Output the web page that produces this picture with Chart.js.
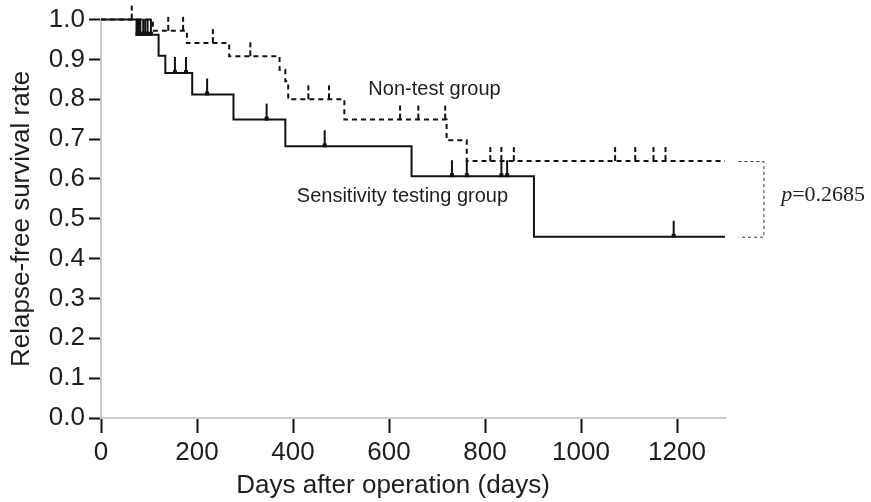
<!DOCTYPE html>
<html><head><meta charset="utf-8">
<script src="https://cdn.jsdelivr.net/npm/chart.js@4.4.1/dist/chart.umd.min.js"></script>
<style>html,body{margin:0;padding:0;background:#fff;}#wrap{width:871px;height:502px;}</style>
</head><body><div id="wrap"><canvas id="c" width="871" height="502"></canvas></div>
<script>
// ---- data ----
const sensTimes  = [0, 74, 120, 134, 190, 276, 384, 647, 902, 1300];
const sensSurv   = [1.0, 0.962, 0.909, 0.866, 0.812, 0.749, 0.682, 0.607, 0.455, 0.455];
const sensCensor = [76, 79, 82, 88, 92, 97, 104, 154, 177, 221, 345, 466, 731, 762, 834, 846, 1193];

const nonTimes   = [0, 108, 179, 267, 372, 384, 390, 507, 720, 762, 1300];
const nonSurv    = [1.0, 0.972, 0.941, 0.908, 0.874, 0.845, 0.800, 0.749, 0.697, 0.645, 0.645];
const nonCensor  = [64, 140, 171, 233, 311, 432, 475, 623, 661, 717, 811, 834, 860, 1071, 1113, 1151, 1176];

const xTickValues = [0, 200, 400, 600, 800, 1000, 1200];
const yTickValues = [0, 0.1, 0.2, 0.3, 0.4, 0.5, 0.6, 0.7, 0.8, 0.9, 1.0];

const seriesNames = ['Sensitivity testing group', 'Non-test group'];
const xTitle = 'Days after operation (days)';
const yTitle = 'Relapse-free survival rate';
const pValueText = '0.2685';

// ---- helpers ----
function stepValue(times, surv, t) {
  let v = surv[0];
  for (let i = 0; i < times.length; i++) { if (times[i] <= t) v = surv[i]; }
  return v;
}
function makeMark(dashed) {
  const c = document.createElement('canvas');
  const h = 17;
  c.width = 6; c.height = h * 2;
  const g = c.getContext('2d');
  g.fillStyle = '#111';
  if (dashed) {
    g.fillRect(2, h - 14, 2, 5);
    g.fillRect(2, h - 6, 2, 6);
  } else {
    g.fillRect(2, 1, 2, h);
    g.fillRect(1, h - 3, 4, 4);
  }
  return c;
}
const FONT = "'Liberation Sans', Arial, Helvetica, sans-serif";
const TXT = '#1e1e1e';

const annot = {
  id: 'annot',
  afterDatasetsDraw(chart) {
    const {ctx, scales: {x, y}} = chart;
    ctx.save();
    ctx.fillStyle = TXT;
    ctx.textBaseline = 'alphabetic';
    ctx.textAlign = 'left';
    ctx.font = '20px ' + FONT;
    ctx.fillText(seriesNames[1], x.getPixelForValue(557), y.getPixelForValue(0.81));
    ctx.fillText(seriesNames[0], x.getPixelForValue(408), y.getPixelForValue(0.541));
    // bracket
    const bx0 = x.getPixelForValue(1328), bx1 = x.getPixelForValue(1380);
    const yTop = y.getPixelForValue(nonSurv[nonSurv.length - 1]);
    const yBot = y.getPixelForValue(sensSurv[sensSurv.length - 1]);
    ctx.strokeStyle = '#333';
    ctx.lineWidth = 1;
    ctx.setLineDash([3, 3]);
    ctx.beginPath();
    ctx.moveTo(bx0, yTop + 0.5); ctx.lineTo(bx1 + 0.5, yTop + 0.5);
    ctx.lineTo(bx1 + 0.5, yBot + 0.5); ctx.lineTo(bx0, yBot + 0.5);
    ctx.stroke();
    ctx.setLineDash([]);
    // p value
    const px = x.getPixelForValue(1417), py = y.getPixelForValue(0.545);
    ctx.font = "italic 22px 'Liberation Serif', 'Times New Roman', serif";
    ctx.fillText('p', px, py);
    const w = ctx.measureText('p').width;
    ctx.font = "22px 'Liberation Serif', 'Times New Roman', serif";
    ctx.fillText('=' + pValueText, px + w, py);
    // x title
    ctx.font = '26px ' + FONT;
    ctx.textAlign = 'center';
    ctx.fillText(xTitle, 393, 493);
    ctx.restore();
  }
};

const ctx = document.getElementById('c').getContext('2d');
new Chart(ctx, {
  type: 'line',
  data: {
    datasets: [
      {
        label: seriesNames[0],
        data: sensTimes.map((t, i) => ({x: t, y: sensSurv[i]})),
        stepped: true, borderColor: '#111', borderWidth: 2, pointRadius: 0, fill: false, clip: false
      },
      {
        label: seriesNames[1],
        data: nonTimes.map((t, i) => ({x: t, y: nonSurv[i]})),
        stepped: true, borderColor: '#111', borderWidth: 2, borderDash: [5, 4], pointRadius: 0, fill: false, clip: false
      },
      {
        label: 'censor1',
        data: sensCensor.map(t => ({x: t, y: stepValue(sensTimes, sensSurv, t)})),
        showLine: false, pointStyle: makeMark(false), pointRadius: 5, clip: false
      },
      {
        label: 'censor2',
        data: nonCensor.map(t => ({x: t, y: stepValue(nonTimes, nonSurv, t)})),
        showLine: false, pointStyle: makeMark(true), pointRadius: 5, clip: false
      }
    ]
  },
  options: {
    responsive: false, animation: false, devicePixelRatio: 1,
    layout: {padding: {top: 18, right: 146, left: 0, bottom: 0}},
    plugins: {legend: {display: false}, tooltip: {enabled: false}},
    elements: {line: {tension: 0}},
    scales: {
      x: {
        type: 'linear', min: 0, max: 1300,
        afterFit: s => { s.height = 84; },
        afterBuildTicks: s => { s.ticks = xTickValues.map(v => ({value: v})); },
        ticks: {color: TXT, font: {size: 26, family: FONT}, padding: 4, maxRotation: 0, callback: v => String(v)},
        grid: {drawOnChartArea: false, drawTicks: true, tickLength: 15, tickColor: '#111', tickWidth: 2},
        border: {display: true, color: '#cccccc', width: 2},
        title: {display: false}
      },
      y: {
        type: 'linear', min: 0, max: 1,
        afterFit: s => { s.width = 101; },
        afterBuildTicks: s => { s.ticks = yTickValues.map(v => ({value: v})); },
        ticks: {color: TXT, font: {size: 26, family: FONT}, padding: 4, callback: v => Number(v).toFixed(1)},
        grid: {drawOnChartArea: false, drawTicks: true, tickLength: 12, tickColor: '#111', tickWidth: 2},
        border: {display: true, color: '#cccccc', width: 2},
        title: {display: true, text: yTitle, color: TXT, font: {size: 26, family: FONT}, padding: {top: 6, bottom: 0}}
      }
    }
  },
  plugins: [annot]
});
</script></body></html>
